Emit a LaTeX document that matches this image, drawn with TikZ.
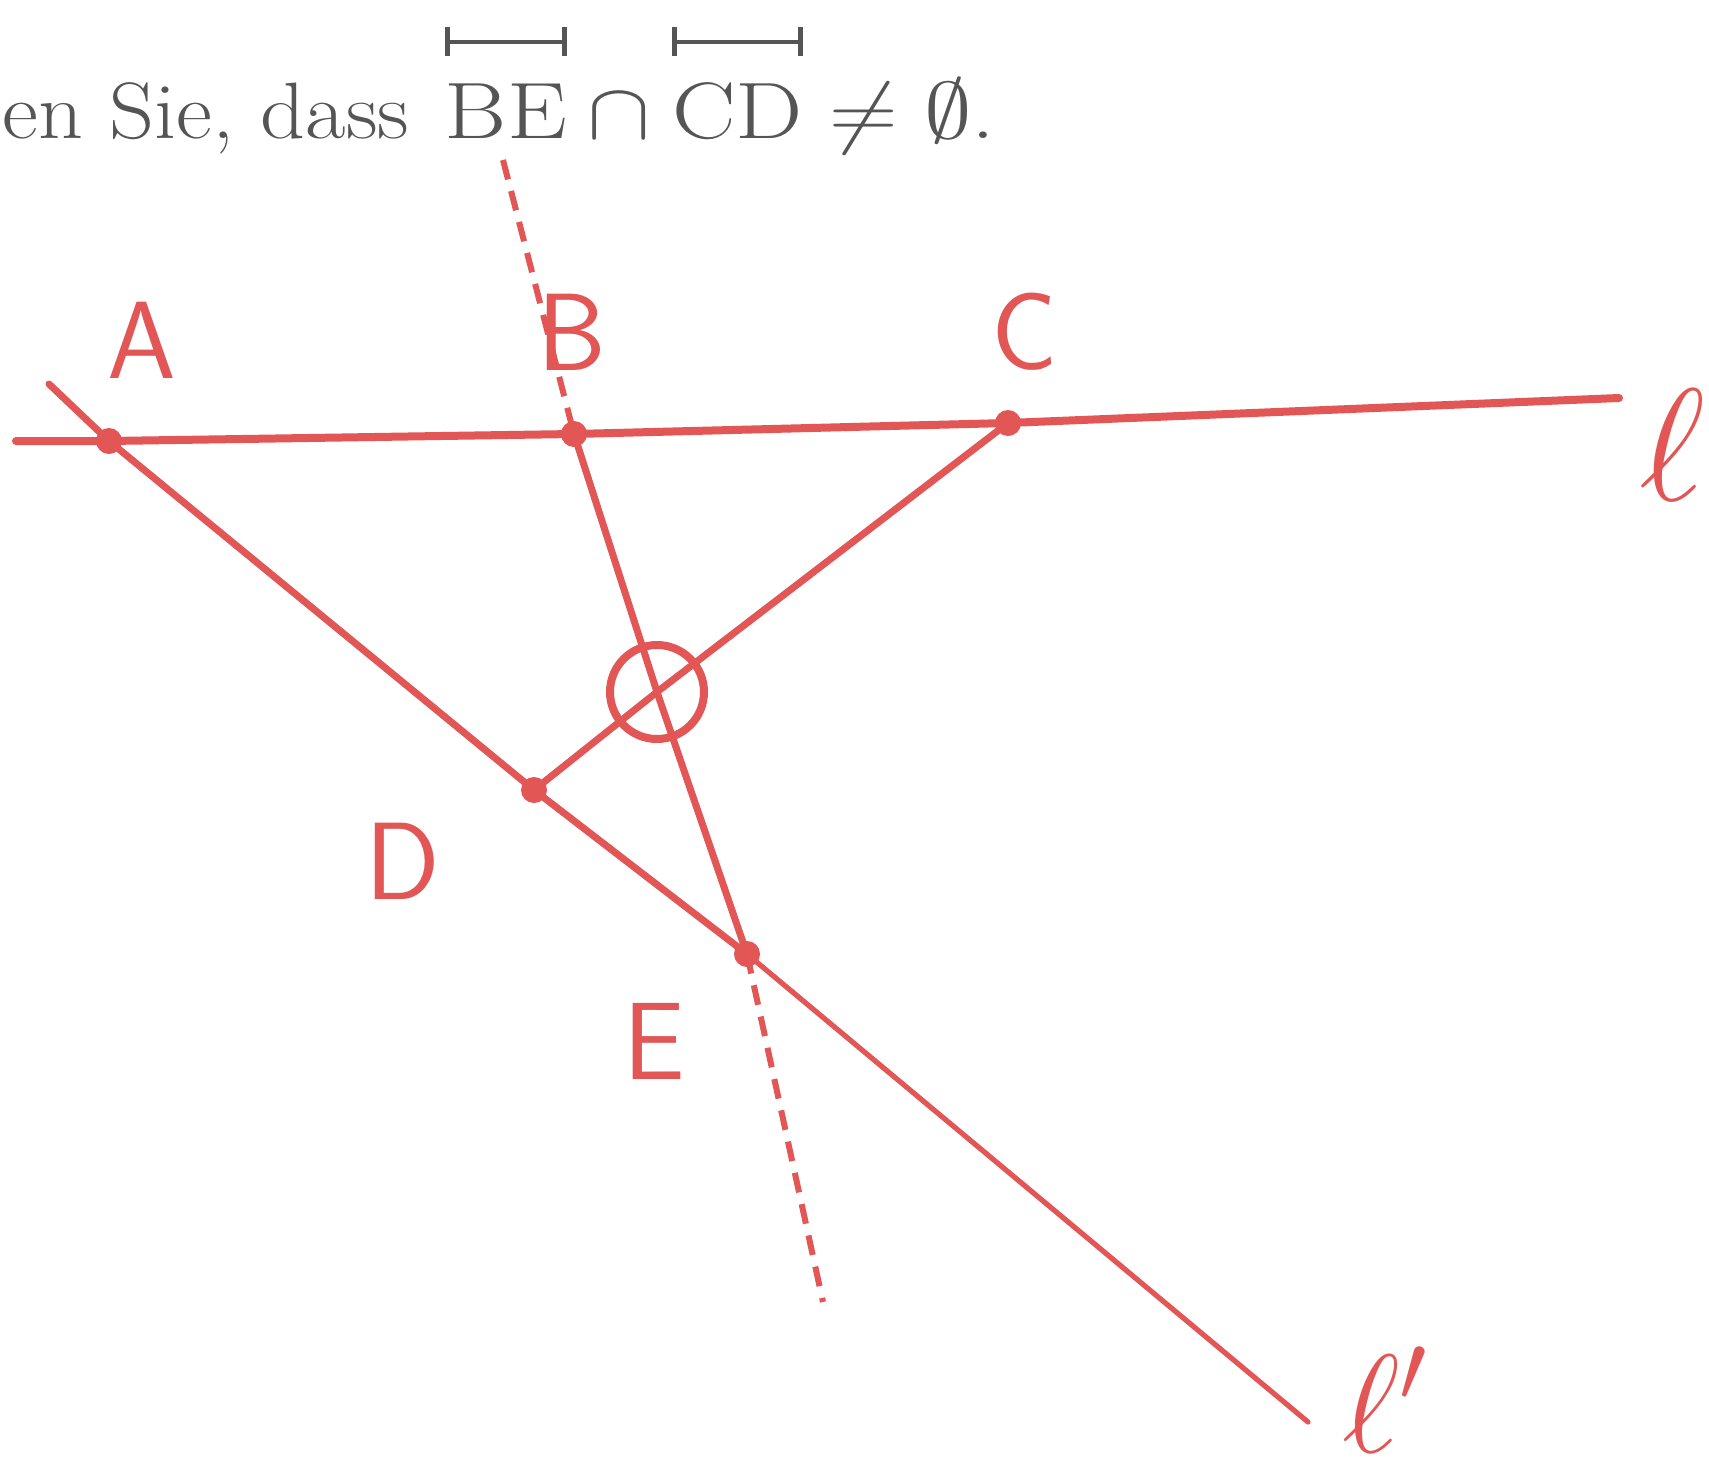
\RequirePackage{fix-cm}
\documentclass[tikz,border=0pt]{standalone}
\usepackage{amssymb}
\definecolor{pen}{RGB}{226,86,86}
\definecolor{ink}{RGB}{85,85,85}
\newcommand{\segm}[1]{\mathord{\setbox0=\hbox{$\mathrm{#1}$}\rlap{\raisebox{\dimexpr\ht0+0.52em\relax}{\hbox to \wd0{\vrule width 0.05em height 0.18em depth 0.18em\leaders\hrule height 0.025em depth 0.025em\hfill\vrule width 0.05em height 0.18em depth 0.18em}}}\box0}}
\tikzset{
  pt/.style={circle,fill=pen,inner sep=0pt,minimum size=13pt},
  pen/.style={draw=pen,line width=3.5pt,line cap=round,line join=round},
  dashline/.style={draw=pen,line width=3pt,dash pattern=on 10pt off 6pt},
  lbl/.style={text=pen,font=\fontsize{55}{60}\selectfont\sffamily,inner sep=0pt},
  ellbl/.style={text=pen,font=\fontsize{80}{90}\selectfont,inner sep=0pt},
  txt/.style={text=ink,font=\fontsize{40}{48}\selectfont,inner sep=0pt}
}
\begin{document}
\begin{tikzpicture}[x=0.5pt,y=-0.5pt]
\useasboundingbox (0,0) rectangle (1709,1472);
\fill[white] (0,0) rectangle (1709,1472);
% top text
\node[txt,anchor=base west] (title) at (2,138) {\scalebox{1.1}[1]{en Sie, dass\hspace{0.1em} \scalebox{1.08}[1]{$\segm{BE}\cap\segm{CD}\neq\emptyset$.}}};
% points
\node[pt] (A) at (109,441) {};
\node[pt] (B) at (574,434) {};
\node[pt] (C) at (1008,423) {};
\node[pt] (D) at (534,790) {};
\node[pt] (E) at (747,954) {};
\node[circle,draw=pen,line width=4pt,minimum size=47pt,inner sep=0pt] (S) at (657,692) {};
\coordinate (lL) at (16,441);
\coordinate (lR) at (1619,398);
\coordinate (kL) at (49,384);
\coordinate (kR) at (1308,1422);
\coordinate (bT) at (503,160);
\coordinate (eB) at (823,1302);
% lines
\draw[pen,line width=4pt] (lL) -- (A.center) -- (B.center) -- (C.center) -- (lR);
\draw[pen] (kL) -- (A.center) -- (D.center) -- (E.center);
\draw[pen,line width=2.6pt] (E.center) -- (kR);
\draw[pen] (B.center) -- (S.center) -- (E.center);
\draw[pen] (C.center) -- (S.center) -- (D.center);
\draw[dashline] (bT) -- (B.center);
\draw[dashline] (E.center) -- (eB);
% labels
\node[lbl] (LA) at (142,340) {A};
\node[lbl] (LB) at (572,332) {B};
\node[lbl] (LC) at (1025,332) {C};
\node[lbl] (LD) at (403,861) {D};
\node[lbl] (LE) at (654,1041) {E};
\node[ellbl] (Ll) at (1672,445) {$\ell$};
\node[ellbl,font=\fontsize{70}{80}\selectfont] (Lk) at (1385,1400) {$\ell'$};
\end{tikzpicture}
\end{document}
